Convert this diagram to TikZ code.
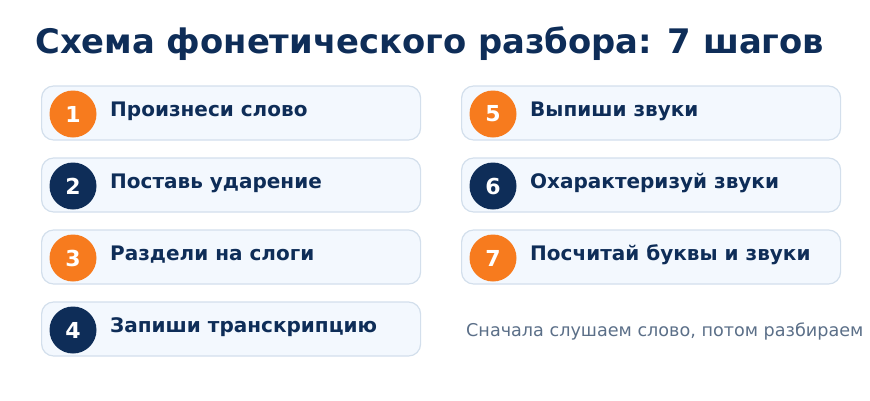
\documentclass[tikz,border=0pt]{standalone}
\usepackage{fontspec}
\setmainfont{DejaVu Sans}
\usepackage{tikz}
\usetikzlibrary{positioning,calc,shapes}

\definecolor{navy}{HTML}{0E2D58}
\definecolor{accent}{HTML}{F77B1E}
\definecolor{boxfill}{HTML}{F3F8FE}
\definecolor{boxline}{HTML}{D3DFEC}
\definecolor{notegray}{HTML}{5B6F88}

\tikzset{
  stepbox/.style={draw=boxline, fill=boxfill, line width=1.2pt, rounded corners=12pt,
    minimum width=379pt, minimum height=54pt, inner sep=0pt},
  badge/.style={circle, minimum size=47pt, inner sep=0pt, text=white,
    font=\fontsize{22}{22}\selectfont\bfseries},
  steplabel/.style={anchor=west, text=navy, font=\fontsize{20}{22}\selectfont\bfseries, inner sep=0pt}
}

\begin{document}
\begin{tikzpicture}[x=1pt,y=-1pt]
  \useasboundingbox (0,0) rectangle (870,400);
  \node[anchor=west, text=navy, font=\fontsize{33.8}{36}\selectfont\bfseries, inner sep=0pt] (title) at (35,44) {Схема фонетического разбора: 7 шагов};
  % steps: column x, row y, number, colour, text
  \foreach \n/\x/\y/\col/\txt in {
      1/41/113/accent/Произнеси слово,
      2/41/185/navy/Поставь ударение,
      3/41/257/accent/Раздели на слоги,
      4/41/329/navy/Запиши транскрипцию,
      5/461/113/accent/Выпиши звуки,
      6/461/185/navy/Охарактеризуй звуки,
      7/461/257/accent/Посчитай буквы и звуки}
  {
    \node[stepbox, anchor=west] (box\n) at (\x,\y) {};
    \node[badge, fill=\col] (num\n) at ($(box\n.west)+(32,1)$) {\n};
    \node[steplabel] (lbl\n) at ($(box\n.west)+(69,-2)$) {\txt};
  }
  \node[anchor=west, text=notegray, font=\fontsize{17.6}{20}\selectfont, inner sep=0pt] (note) at (466,331) {Сначала слушаем слово, потом разбираем};
\end{tikzpicture}
\end{document}
